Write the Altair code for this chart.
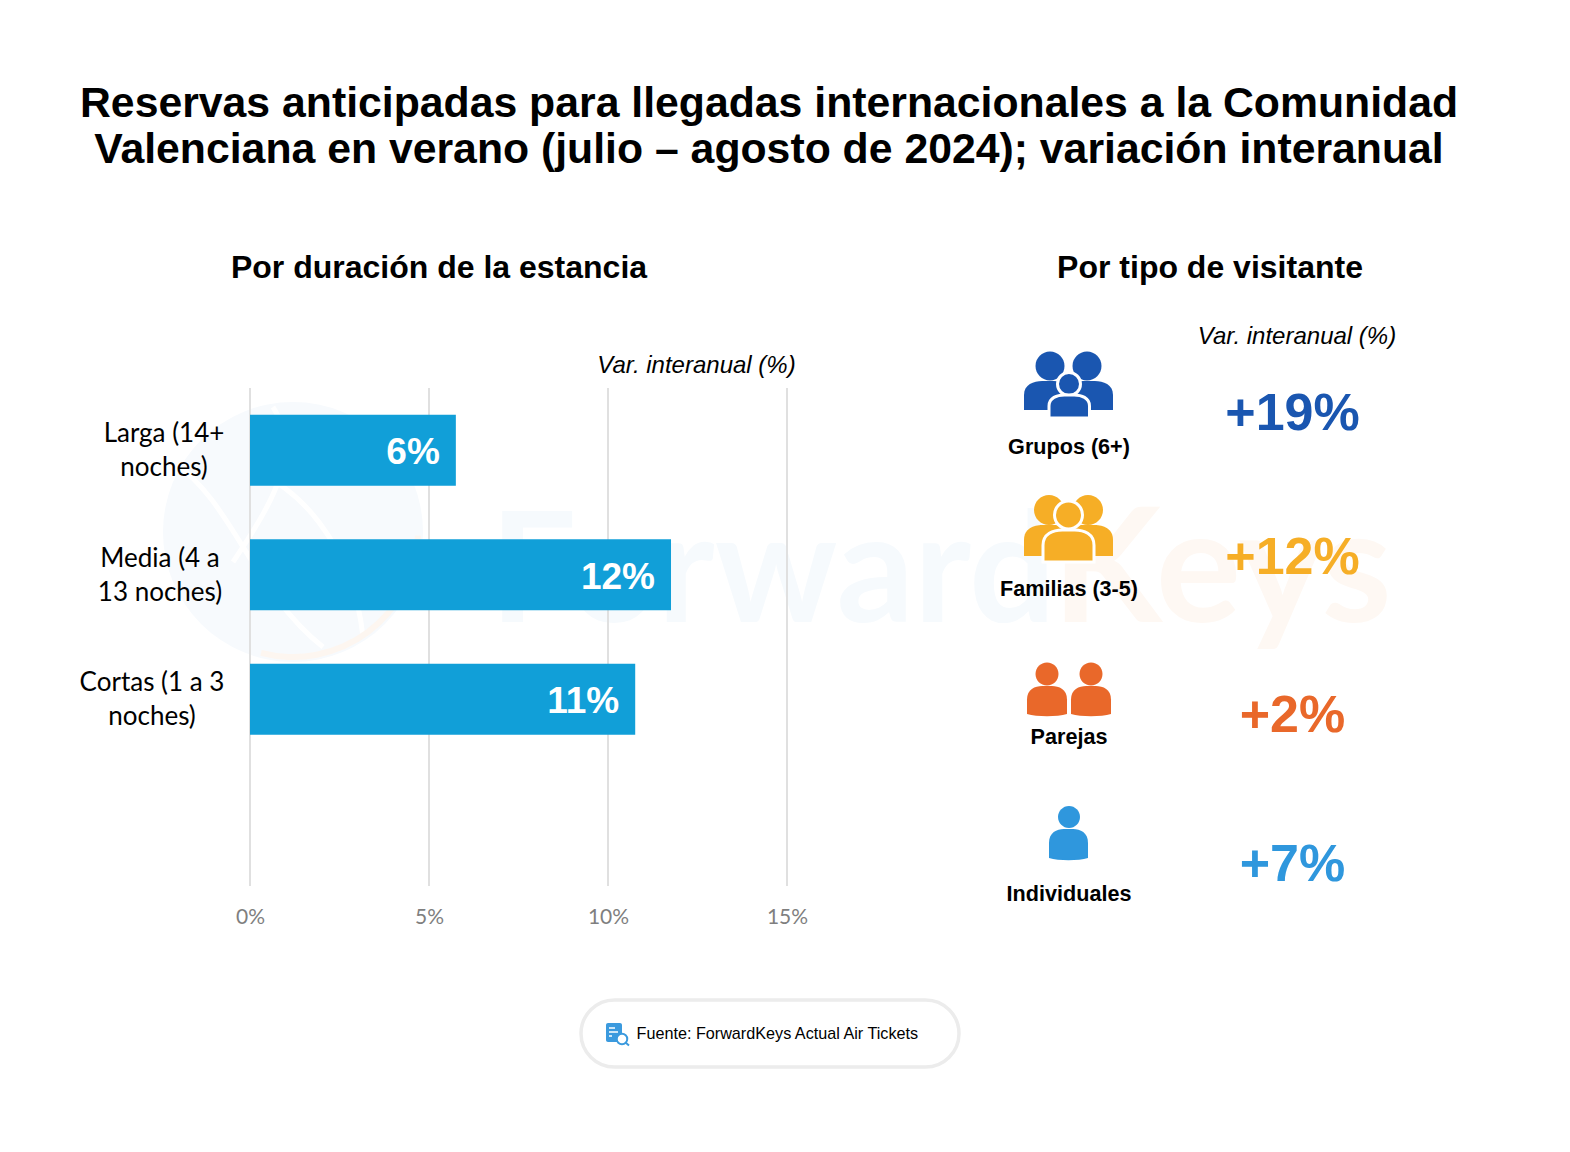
import altair as alt
import pandas as pd

W, H = 1554, 1136
TITLE = ["Reservas anticipadas para llegadas internacionales a la Comunidad",
         "Valenciana en verano (julio – agosto de 2024); variación interanual"]

# left panel
duracion = ["Larga (14+ noches)", "Media (4 a 13 noches)", "Cortas (1 a 3 noches)", ""]
variacion = [5.75, 11.76, 10.76]
etiquetas = ["6%", "12%", "11%"]
lineas = [["Larga (14+", "noches)"], ["Media (4 a", "13 noches)"], ["Cortas (1 a 3", "noches)"]]
ticks = [0, 5, 10, 15]

# right panel
tipos = ["Grupos (6+)", "Familias (3-5)", "Parejas", "Individuales"]
valores = ["+19%", "+12%", "+2%", "+7%"]
colores = ["#1a56b0", "#f6ae26", "#e9682a", "#2f97dd"]

SANS = "Liberation Sans"
BODY = "Lato"
X_SCALE = alt.Scale(domain=[0, 15], range=[242, 779], nice=False, zero=False)
Y_SCALE = alt.Scale(domain=duracion, range=[380, 878], paddingInner=0.43, paddingOuter=0.215)
COLOR = alt.Color("tipo:N", scale=alt.Scale(domain=tipos, range=colores), legend=None)


def rows_y(positions):
    return alt.Y("fila:Q", scale=alt.Scale(domain=[0, 1, 2, 3], range=[p - 8 for p in positions],
                                           nice=False, zero=False), axis=None)


def label(txt, x, y, **style):
    style.setdefault("font", SANS)
    style.setdefault("color", "#000000")
    return alt.Chart(pd.DataFrame({"t": [txt]})).mark_text(**style).encode(
        x=alt.value(x - 8), y=alt.value(y - 8), text="t:N")


S = 100.0


def P(*items):
    """Path made of page-pixel offsets around a centre, in symbol units (-1..1)."""
    out = []
    for it in items:
        if isinstance(it, str):
            out.append(it)
        else:
            out.append(f"{it[0] / (S / 2):.4f},{it[1] / (S / 2):.4f}")
    return " ".join(out)


def circle(cx, cy, r):
    k = 0.5523 * r
    return P("M", (cx - r, cy), "C", (cx - r, cy - k), (cx - k, cy - r), (cx, cy - r),
             "C", (cx + k, cy - r), (cx + r, cy - k), (cx + r, cy),
             "C", (cx + r, cy + k), (cx + k, cy + r), (cx, cy + r),
             "C", (cx - k, cy + r), (cx - r, cy + k), (cx - r, cy), "Z")


def body(x0, x1, top, bottom, sag=0.0):
    w = x1 - x0
    h = bottom - top
    return P("M", (x0, bottom), "L", (x0, top + h * 0.48),
             "C", (x0, top + h * 0.12), (x0 + w * 0.2, top), (x0 + w * 0.38, top),
             "L", (x1 - w * 0.38, top),
             "C", (x1 - w * 0.2, top), (x1, top + h * 0.12), (x1, top + h * 0.48),
             "L", (x1, bottom),
             "C", (x1 - w * 0.25, bottom + sag), (x0 + w * 0.25, bottom + sag), (x0, bottom), "Z")


CX = 1068.5
ICON_Y = [384, 528, 689, 833]
# each part: (tipo index, shape path, has white ring)
parts = [
    # Grupos
    (0, circle(1050 - CX, 366 - 384, 14.5), False),
    (0, circle(1087 - CX, 366 - 384, 14.5), False),
    (0, body(1024 - CX, 1072 - CX, 381 - 384, 410 - 384), False),
    (0, body(1065 - CX, 1113 - CX, 381 - 384, 410 - 384), False),
    (0, circle(1069 - CX, 384 - 384, 11.5), True),
    (0, body(1049 - CX, 1089.5 - CX, 395 - 384, 418 - 384), True),
    # Familias
    (1, circle(1049 - CX, 510 - 528, 15), False),
    (1, circle(1088 - CX, 510 - 528, 15), False),
    (1, body(1024 - CX, 1072 - CX, 525 - 528, 556 - 528), False),
    (1, body(1065 - CX, 1113 - CX, 525 - 528, 556 - 528), False),
    (1, circle(1068.5 - CX, 515 - 528, 14), True),
    (1, body(1043 - CX, 1094 - CX, 530 - 528, 562 - 528), True),
    # Parejas
    (2, circle(1047 - CX, 674 - 689, 11.5), False),
    (2, circle(1091 - CX, 674 - 689, 11.5), False),
    (2, body(1027 - CX, 1067 - CX, 686 - 689, 714 - 689, 3), False),
    (2, body(1071 - CX, 1111 - CX, 686 - 689, 714 - 689, 3), False),
    # Individuales
    (3, circle(1069 - CX, 817 - 833, 11), False),
    (3, body(1049 - CX, 1088 - CX, 829 - 833, 858 - 833, 3), False),
]

layers = []

# ---- faint watermark
layers.append(alt.Chart(pd.DataFrame({"a": [1]})).mark_point(
    shape="circle", filled=True, size=260 ** 2, color="#f7fafd", opacity=1, strokeWidth=0
).encode(x=alt.value(293 - 8), y=alt.value(532 - 8)))
swoosh = P("M", (-120, -70), "C", (-60, -30), (-40, 60), (30, 115))
swoosh2 = P("M", (-60, 30), "C", (-20, -30), (10, -80), (-20, -125))
swoosh3 = P("M", (-40, -60), "C", (0, -50), (60, 10), (70, 105))
for sw in (swoosh, swoosh2, swoosh3):
    layers.append(alt.Chart(pd.DataFrame({"a": [1]})).mark_point(
        shape=sw, filled=False, size=S ** 2, color="#ffffff", opacity=1, strokeWidth=5
    ).encode(x=alt.value(293 - 8), y=alt.value(532 - 8)))
layers.append(alt.Chart(pd.DataFrame({"a": [1]})).mark_arc(
    radius=128, radius2=122, theta=1.6, theta2=3.4, color="#fdf6f0"
).encode(x=alt.value(293 - 8), y=alt.value(532 - 8)))
layers.append(label("Forward", 490, 622, font="Lato", fontSize=153, fontWeight="bold",
                    align="left", baseline="alphabetic", color="#f6fafd"))
layers.append(label("Keys", 1052, 622, font="Lato", fontSize=160, fontWeight="bold",
                    align="left", baseline="alphabetic", color="#fef8f3"))

# ---- titles
layers.append(label(TITLE[0], 769, 104, fontSize=42.75, fontWeight="bold", baseline="middle"))
layers.append(label(TITLE[1], 769, 150, fontSize=42.75, fontWeight="bold", baseline="middle"))
layers.append(label("Por duración de la estancia", 439, 268, fontSize=32, fontWeight="bold", baseline="middle"))
layers.append(label("Por tipo de visitante", 1210, 268, fontSize=32, fontWeight="bold", baseline="middle"))
layers.append(label("Var. interanual (%)", 696.5, 366, fontSize=24, fontStyle="italic", baseline="middle"))
layers.append(label("Var. interanual (%)", 1297, 337, fontSize=24, fontStyle="italic", baseline="middle"))

# ---- left panel
t_df = pd.DataFrame({"v": ticks})
layers.append(alt.Chart(t_df).mark_rule(color="#e0e0e0", strokeWidth=2).encode(
    x=alt.X("v:Q", scale=X_SCALE, axis=alt.Axis(
        orient="bottom", values=ticks, labelExpr="datum.value + '%'", title=None, grid=False, domain=False,
        ticks=False, offset=-250, labelPadding=23, labelFont=BODY, labelFontSize=21, labelColor="#7f7f7f",
        labelBaseline="middle", labelFlush=False)),
    y=alt.value(380), y2=alt.value(878)))

bar_df = pd.DataFrame({"cat": duracion[:3], "v": variacion, "t": etiquetas})
layers.append(alt.Chart(bar_df).mark_bar(color="#119fd8").encode(
    x=alt.X("v:Q", scale=X_SCALE, axis=None),
    y=alt.Y("cat:N", scale=Y_SCALE, sort=duracion, axis=None)))
layers.append(alt.Chart(bar_df).mark_text(
    align="right", dx=-16, dy=3, color="#ffffff", font=SANS, fontWeight="bold", fontSize=37, baseline="middle"
).encode(
    x=alt.X("v:Q", scale=X_SCALE, axis=None),
    y=alt.Y("cat:N", scale=Y_SCALE, sort=duracion, axis=None),
    text="t:N"))

line_pos = [(164, 434, 468), (160, 559, 593), (152, 683, 717)]
for (a, b), (x, y1, y2) in zip(lineas, line_pos):
    layers.append(label(a, x, y1, font=BODY, fontSize=26, baseline="middle"))
    layers.append(label(b, x, y2, font=BODY, fontSize=26, baseline="middle"))

# ---- right panel
r_df = pd.DataFrame({"tipo": tipos, "fila": list(range(len(tipos))), "val": valores})
layers.append(alt.Chart(r_df).mark_text(font=SANS, fontWeight="bold", fontSize=52, baseline="middle").encode(
    x=alt.value(1292.5 - 8), y=rows_y([413.5, 557.5, 715.5, 864.5]), text="val:N", color=COLOR))
layers.append(alt.Chart(r_df).mark_text(font=SANS, fontWeight="bold", fontSize=21.6, baseline="middle",
                                        color="#000000").encode(
    x=alt.value(1069 - 8), y=rows_y([448, 589.5, 737.5, 894.5]), text="tipo:N"))

for idx, path, ring in parts:
    style = dict(stroke="#ffffff", strokeWidth=3) if ring else dict(strokeWidth=0)
    layers.append(alt.Chart(pd.DataFrame({"tipo": [tipos[idx]], "fila": [idx]})).mark_point(
        shape=path, filled=True, size=S ** 2, opacity=1, **style
    ).encode(x=alt.value(CX - 8), y=rows_y(ICON_Y), color=COLOR))

# ---- source pill
one = pd.DataFrame({"a": [1]})
layers.append(alt.Chart(one).mark_rect(fill="#ffffff", stroke="#ececec", strokeWidth=3.5, cornerRadius=34).encode(
    x=alt.value(581 - 8), x2=alt.value(959 - 8), y=alt.value(1000 - 8), y2=alt.value(1067 - 8)))
layers.append(alt.Chart(one).mark_rect(fill="#3b9ade", cornerRadius=2).encode(
    x=alt.value(606 - 8), x2=alt.value(622 - 8), y=alt.value(1023 - 8), y2=alt.value(1042 - 8)))
for yy, x2 in ((1028, 615), (1032, 618), (1036, 612)):
    layers.append(alt.Chart(one).mark_rule(color="#ffffff", strokeWidth=1.5).encode(
        x=alt.value(609 - 8), x2=alt.value(x2 - 8), y=alt.value(yy - 8)))
layers.append(alt.Chart(one).mark_point(shape="circle", filled=True, size=110, fill="#ffffff", stroke="#3b9ade",
                                        strokeWidth=2, opacity=1).encode(
    x=alt.value(622 - 8), y=alt.value(1039 - 8)))
layers.append(alt.Chart(one).mark_rule(color="#3b9ade", strokeWidth=2).encode(
    x=alt.value(625.5 - 8), x2=alt.value(629 - 8), y=alt.value(1042.5 - 8), y2=alt.value(1045.5 - 8)))
layers.append(label("Fuente: ForwardKeys Actual Air Tickets", 636.5, 1034, fontSize=16.2, align="left",
                    baseline="middle"))

chart = alt.layer(*layers).resolve_scale(x="independent", y="independent", color="independent").properties(
    width=W, height=H, padding=0, autosize=alt.AutoSizeParams(type="none"), background="#ffffff"
).configure_view(stroke=None)

chart.save("out.html", embed_options={"renderer": "svg", "actions": False})
